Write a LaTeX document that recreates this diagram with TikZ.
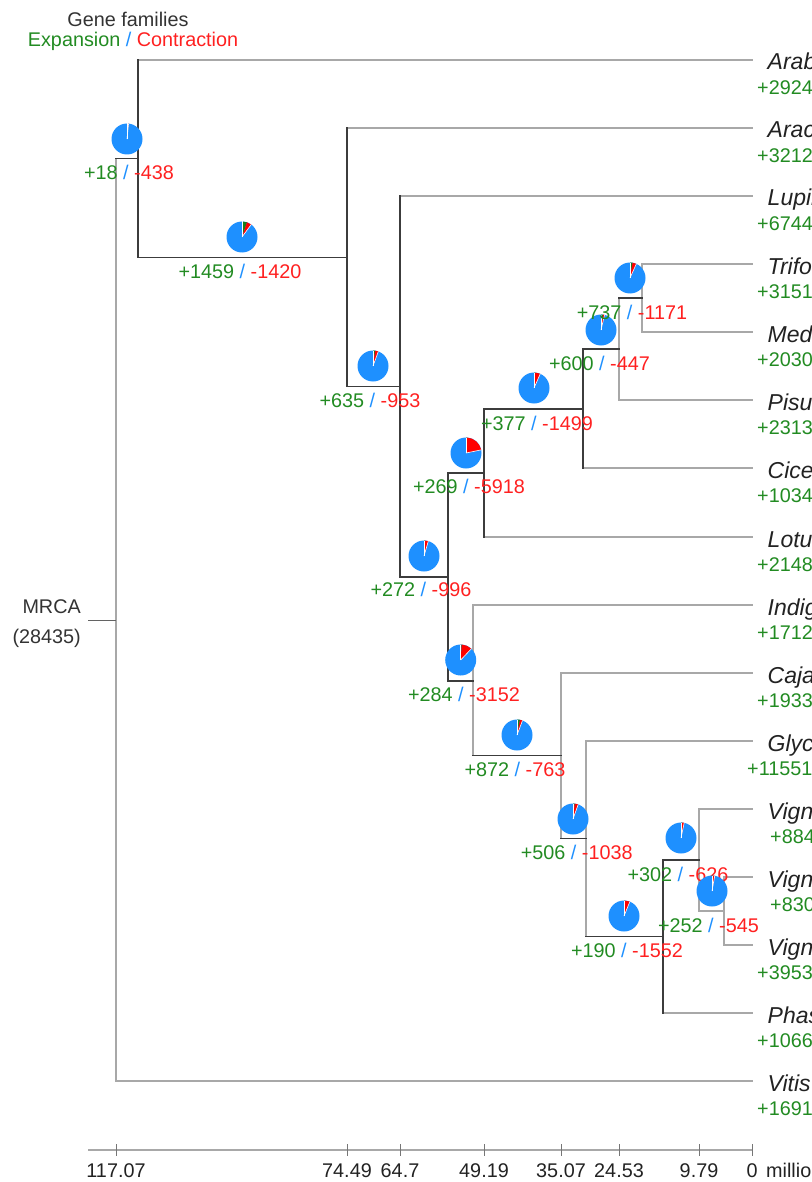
\documentclass[tikz,border=0pt]{standalone}
\usepackage{fontspec}
\setmainfont{Liberation Sans}
\definecolor{expgreen}{HTML}{228B22}
\definecolor{conred}{HTML}{FF2020}
\definecolor{sepblue}{HTML}{1E90FF}
\definecolor{pieblue}{HTML}{1E90FF}
\definecolor{piegreen}{HTML}{1A7F1A}
\definecolor{piered}{HTML}{FF0000}
\definecolor{tipgray}{HTML}{A8A8A8}
\definecolor{branchdark}{HTML}{3C3C3C}
\definecolor{inkgray}{HTML}{222222}
\begin{document}
\begin{tikzpicture}[x=1pt,y=-1pt,
  txt/.style={font=\fontsize{19.8}{22}\selectfont, inner sep=0pt, text=inkgray},
  lab/.style={txt, anchor=base},
  tipname/.style={txt, anchor=base west, font=\fontsize{23}{25}\selectfont\itshape},
  tipcount/.style={txt, anchor=base west, text=expgreen},
  light/.style={draw=tipgray, line width=1.8pt, line cap=rect},
  dark/.style={draw=branchdark, line width=1.1pt, line cap=rect},
  stub/.style={draw=branchdark!80, line width=0.9pt},
  axisline/.style={draw=tipgray, line width=1.8pt},
  tickmark/.style={draw=branchdark!70, line width=0.9pt}]
\useasboundingbox (0,0) rectangle (811,1182);

% legend
\node[lab, text=black!80] (hdr1) at (128,27) {Gene families};
\node[lab] (hdr2) at (133,47) {{\color{expgreen}Expansion} {\color{sepblue}/} {\color{conred}Contraction}};

% tips: label, count
\foreach \tn/\ty/\nm/\cnt/\cx in {
  A1/60/{Arabidopsis thaliana}/+2924/757,
  A2/128/{Arachis hypogaea}/+3212/757,
  Lup/196/{Lupinus angustifolius}/+6744/757,
  Tri/264/{Trifolium pratense}/+3151/757,
  Med/332/{Medicago truncatula}/+2030/757,
  Pis/400/{Pisum sativum}/+2313/757,
  Cic/468/{Cicer arietinum}/+1034/757,
  Lot/537/{Lotus japonicus}/+2148/757,
  Ind/605/{Indigofera tinctoria}/+1712/757,
  Caj/673/{Cajanus cajan}/+1933/757,
  Gly/741/{Glycine max}/+11551/747,
  V1/809/{Vigna radiata}/+884/770,
  V2/877/{Vigna angularis}/+830/770,
  V3/945/{Vigna unguiculata}/+3953/757,
  Pha/1013/{Phaseolus vulgaris}/+1066/757,
  Vit/1081/{Vitis vinifera}/+1691/757}
{
  \coordinate (t\tn) at (752,\ty);
  \node[tipname] (name\tn) at (767.5,\ty+10) {\nm};
  \node[tipcount] (count\tn) at (\cx,\ty+34.5) {\cnt};
}

% internal nodes of the tree
\coordinate (nRoot) at (116,620);
\coordinate (nA1)   at (138,158.5);
\coordinate (nA2)   at (347,257.5);
\coordinate (nLup)  at (400,386.5);
\coordinate (nPap)  at (448,577);
\coordinate (nL)    at (484,473);
\coordinate (nCic)  at (583,409);
\coordinate (nP)    at (619,349);
\coordinate (nTM)   at (642,298);
\coordinate (nI)    at (473,681);
\coordinate (nC)    at (561,755.5);
\coordinate (nG)    at (586,838.5);
\coordinate (nVP)   at (663,936.5);
\coordinate (nV)    at (699,860);
\coordinate (nV23)  at (724,911);

% terminal branches
\foreach \t/\n in {tA1/nA1, tA2/nA2, tLup/nLup, tTri/nTM, tMed/nTM, tPis/nP,
  tCic/nCic, tLot/nL, tInd/nI, tCaj/nC, tGly/nG, tV1/nV, tV2/nV23, tV3/nV23,
  tPha/nVP, tVit/nRoot}
  \draw[light] (\n |- \t) -- (\t);

% light verticals
\foreach \n/\a/\b in {nRoot/nA1/tVit, nP/nTM/tPis, nTM/tTri/tMed, nI/tInd/nC,
  nC/tCaj/nG, nG/tGly/nVP, nV/tV1/nV23, nV23/tV2/tV3}
  \draw[light] (\n |- \a) -- (\n |- \b);
\draw[light] (nV |- nV23) -- (nV23);

% dark verticals
\foreach \n/\a/\b in {nA1/tA1/nA2, nA2/tA2/nLup, nLup/tLup/nPap, nPap/nL/nI,
  nL/nCic/tLot, nCic/nP/tCic, nVP/nV/tPha}
  \draw[dark] (\n |- \a) -- (\n |- \b);

% dark internal branches
\foreach \p/\c in {nRoot/nA1, nA1/nA2, nA2/nLup, nLup/nPap, nPap/nL, nPap/nI,
  nL/nCic, nCic/nP, nP/nTM, nI/nC, nC/nG, nG/nVP, nVP/nV}
  \draw[dark] (\p |- \c) -- (\c);

% root label
\coordinate (mrcaStub) at (88,620);
\draw[stub] (mrcaStub) -- (nRoot);
\node[txt, anchor=base east, text=black!80] (mrca) at (81,613) {MRCA};
\node[txt, anchor=base east, text=black!80] (mrcaN) at (81,643) {(28435)};

% expansion / contraction pies (share of the 28435 root families)
\foreach \px/\py/\e/\c/\lx/\ly [count=\k] in {
  127/139/18/438/129/179.5,
  242/237/1459/1420/240/278,
  373/366/635/953/370/407,
  466/453/269/5918/469/493.5,
  424/556/272/996/421/596.7,
  534/388/377/1499/537/430,
  601/330/600/447/599.5/370,
  630/278/737/1171/632/319,
  460.7/660/284/3152/464/701,
  517/735/872/763/515/776.7,
  573/819/506/1038/576.7/859,
  624/916/190/1552/627/957,
  681/838/302/626/678/881,
  712/891/252/545/708.5/932}
{
  \pgfmathsetmacro\ga{\e*0.01266045}
  \pgfmathsetmacro\ra{\c*0.01266045}
  \coordinate (pie\k) at (\px,\py);
  \fill[pieblue] (pie\k) circle[radius=15.5];
  \fill[piegreen] (pie\k) -- ++(-90:15.5) arc[start angle=-90, delta angle=\ga, radius=15.5] -- cycle;
  \fill[piered] (pie\k) -- ++({-90+\ga}:15.5) arc[start angle={-90+\ga}, delta angle=\ra, radius=15.5] -- cycle;
  \draw[white, line width=0.6pt] (pie\k) -- ++(-90:15.5);
  \draw[white, line width=0.6pt] (pie\k) -- ++({-90+\ga+\ra}:15.5);
  \node[lab] (count\k) at (\lx,\ly) {{\color{expgreen}+\e} {\color{sepblue}/} {\color{conred}-\c}};
}

% time axis
\coordinate (axL) at (88,1150);
\coordinate (axR) at (752,1150);
\draw[axisline] (axL) -- (axR);
\foreach \x/\lab [count=\i] in {116/117.07, 347/74.49, 400/64.7, 484/49.19,
  561/35.07, 619/24.53, 699/9.79, 752/0}
{
  \draw[tickmark] (\x,1144) -- (\x,1156);
  \node[lab] (tick\i) at (\x,1177) {\lab};
}
\node[txt, anchor=base west] (unit) at (766,1177) {million years ago};
\end{tikzpicture}
\end{document}
